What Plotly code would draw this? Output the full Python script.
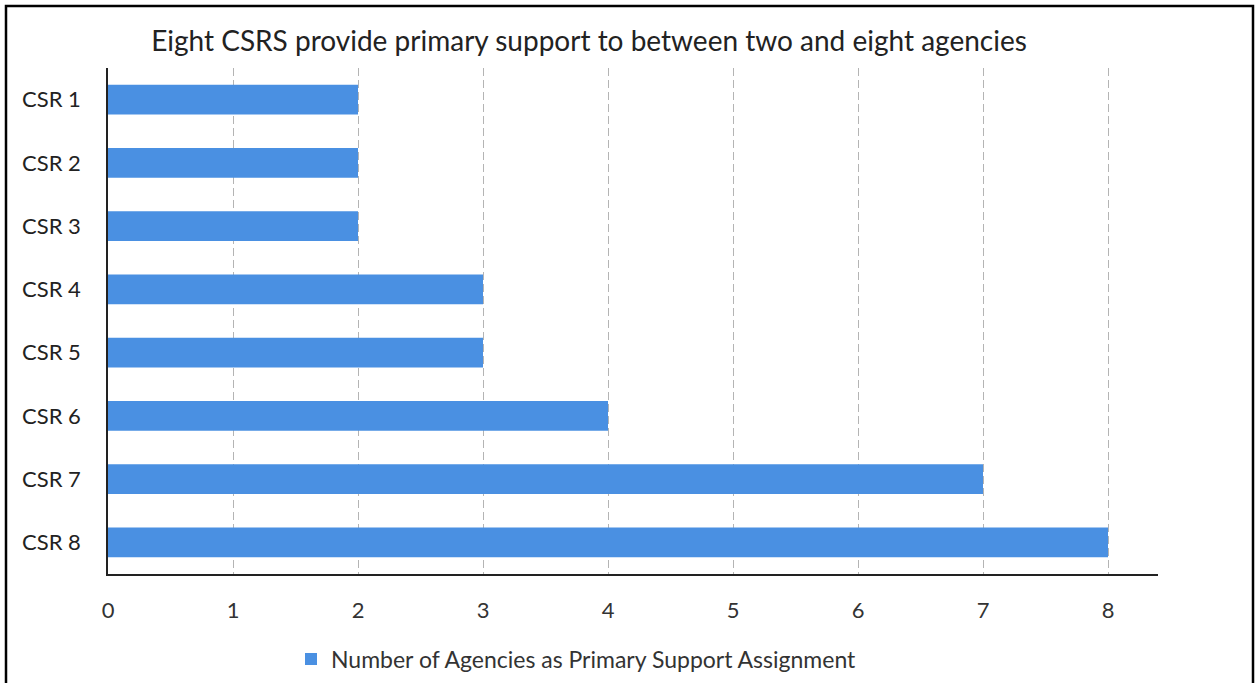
import plotly.graph_objects as go

categories = ["CSR 1", "CSR 2", "CSR 3", "CSR 4", "CSR 5", "CSR 6", "CSR 7", "CSR 8"]
agencies = [2, 2, 2, 3, 3, 4, 7, 8]
series_name = "Number of Agencies as Primary Support Assignment"
title_text = "Eight CSRS provide primary support to between two and eight agencies"

W, H = 1255, 683
L, R, T, B = 108, 97, 68, 109
pw, ph = W - L - R, H - T - B

def px_x(x):
    return (x - L) / pw

def px_y(y):
    return (H - B - y) / ph

fig = go.Figure()
fig.add_trace(go.Bar(
    x=agencies, y=categories, orientation="h", name=series_name,
    marker=dict(color="#4a90e2", line=dict(width=0)),
    showlegend=True,
))

font_family = "Lato, 'Open Sans', sans-serif"

fig.update_layout(
    width=W, height=H,
    margin=dict(l=L, r=R, t=T, b=B, pad=0, autoexpand=False),
    paper_bgcolor="white", plot_bgcolor="white",
    font=dict(family=font_family, size=22, color="#333333"),
    title=dict(text=title_text, x=589 / W, xanchor="center", xref="container",
               y=1 - 41 / H, yanchor="middle", yref="container",
               font=dict(family=font_family, size=28, color="#222222")),
    bargap=0.53,
    showlegend=True,
    legend=dict(orientation="h", x=291 / W, xanchor="left", xref="container",
                y=1 - 659 / H, yanchor="middle", yref="container",
                font=dict(size=23, color="#333333"), bgcolor="rgba(0,0,0,0)"),
    xaxis=dict(range=[0, 8.4], tickvals=list(range(0, 9)), showgrid=True,
               gridcolor="#b4b4b4", griddash="8px,4px", gridwidth=1.2,
               showline=True, linecolor="#222222", linewidth=1.5,
               zeroline=False, ticks="", ticklabelstandoff=16,
               tickfont=dict(size=22, color="#333333")),
    yaxis=dict(autorange="reversed", showgrid=False, showline=True,
               linecolor="#222222", linewidth=1.5, ticks="", ticklabelstandoff=21,
               tickfont=dict(size=22, color="#222222")),
    shapes=[dict(type="rect", xref="paper", yref="paper",
                 x0=px_x(6), x1=px_x(1253), y0=px_y(700), y1=px_y(6),
                 line=dict(color="black", width=2.5), fillcolor="rgba(0,0,0,0)", layer="above")],
)

fig.write_html("out.html", config={"displayModeBar": False},
               post_script="document.body.style.margin='0';")
